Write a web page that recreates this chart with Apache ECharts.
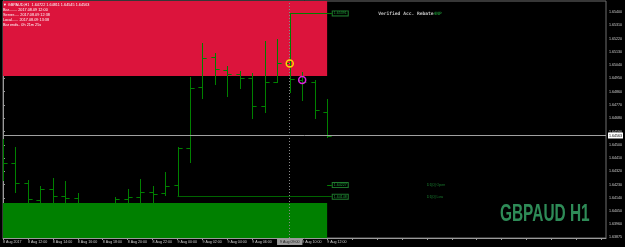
<!DOCTYPE html>
<html>
<head>
<meta charset="utf-8">
<script src="https://cdn.jsdelivr.net/npm/echarts@6/dist/echarts.min.js"></script>
<style>
  html, body { margin: 0; padding: 0; background: #000; }
  #main { width: 625px; height: 247px; }
</style>
</head>
<body>
<div id="main"></div>
<script>
// GBPAUD H1, bars from 8 Aug 10:00 to 9 Aug 12:00
var opens  = [1.64397,1.64375,1.64239,1.64126,1.64198,1.64153,1.64137,1.64085,1.64020,1.64080,1.64135,1.64144,1.64180,1.64171,1.64227,1.64476,1.64890,1.65093,1.65007,1.64980,1.64951,1.64761,1.64928,1.65052,1.64939,1.64924,1.64722];
var highs  = [1.64539,1.64487,1.64261,1.64221,1.64277,1.64255,1.64171,1.64092,1.64090,1.64148,1.64200,1.64268,1.64221,1.64316,1.64483,1.64957,1.65188,1.65120,1.65034,1.65000,1.64985,1.65206,1.65215,1.65391,1.64995,1.64939,1.64811];
var lows   = [1.64255,1.64175,1.64058,1.64045,1.64031,1.64024,1.64004,1.63960,1.63990,1.64045,1.64045,1.64058,1.64072,1.64150,1.64148,1.64375,1.64808,1.64905,1.64826,1.64878,1.64675,1.64718,1.64921,1.64849,1.64797,1.64675,1.64545];
var closes = [1.64375,1.64239,1.64131,1.64198,1.64153,1.64137,1.64092,1.64020,1.64070,1.64131,1.64144,1.64180,1.64167,1.64219,1.64476,1.64883,1.65086,1.65012,1.64980,1.64955,1.64761,1.64924,1.65052,1.64944,1.64924,1.64734,1.64563];

var timeLabels = ['8 Aug 2017','8 Aug 12:00','8 Aug 14:00','8 Aug 16:00','8 Aug 18:00','8 Aug 20:00','8 Aug 22:00',
                  '9 Aug 00:00','9 Aug 02:00','9 Aug 04:00','9 Aug 06:00','9 Aug 08:00','9 Aug 10:00','9 Aug 12:00'];
var priceTicks = [1.65400,1.65310,1.65220,1.65130,1.65040,1.64950,1.64860,1.64770,1.64680,1.64590,
                  1.64500,1.64410,1.64320,1.64230,1.64140,1.64050,1.63960,1.63875];

var priceMin = 1.63868, priceMax = 1.65475;
var barMax = 48.37;
var bid = 1.64563;
var supplyZone = 1.64966;   // red box bottom
var demandZone = 1.64105;   // green box top
var zoneEnd = 26;
var dayOpen = 1.64227, dayLow = 1.64148, dayLowBar = 14;
var topLevel = 1.65391, topLevelBar = 23;
var levelEnd = 26.37;
var cursorBar = 23, cursorTime = '9 Aug 09:00';
var yellowMark = [[23, 1.65052]];
var magentaMark = [[24, 1.64939]];
var notes = [
  { value: [34, dayOpen], text: 'D1[0] Open' },
  { value: [34, dayLow], text: 'D1[0] Low' }
];

var header = [
  '\u25BC GBPAUD,H1  1.64722 1.64811 1.64545 1.64563',
  'Bar........ 2017.08.09 12:00',
  'Server..... 2017.08.09 12:38',
  'Local...... 2017.08.09 13:38',
  'Bar ends.. 0h 21m 25s'
];

var ohlc = opens.map(function (o, i) { return [i, o, closes[i], highs[i], lows[i]]; });

var FONT = 'Liberation Sans';
var myChart = echarts.init(document.getElementById('main'));

function crisp(v) { return Math.round(v) + 0.5; }

var boxLabel = function (txt) {
  return { show: true, position: 'end', distance: 1, formatter: txt,
           color: '#1fa03a', backgroundColor: '#000', borderColor: '#1f7a2e', borderWidth: 1,
           padding: [0, 1], fontSize: 3.6, fontFamily: FONT };
};

myChart.setOption({
  backgroundColor: '#000',
  animation: false,
  grid: {
    left: 1, right: 17, top: 1, bottom: 9,
    show: true, borderColor: '#6e6e6e', borderWidth: 1, backgroundColor: '#000'
  },
  xAxis: {
    type: 'value', min: 0, max: barMax, interval: 2,
    axisLine: { show: true, lineStyle: { color: '#9a9a9a', width: 1 } },
    axisTick: { show: true, length: 2, lineStyle: { color: '#9a9a9a' } },
    splitLine: { show: false },
    axisLabel: {
      color: '#d0d0d0', fontSize: 3.6, fontFamily: FONT, margin: 2, align: 'left',
      showMaxLabel: false,
      formatter: function (v) { return timeLabels[Math.round(v / 2)] || ''; }
    }
  },
  yAxis: {
    type: 'value', position: 'right', min: priceMin, max: priceMax, scale: true,
    axisLine: { show: true, lineStyle: { color: '#9a9a9a', width: 1 } },
    axisTick: { show: true, length: 2, customValues: priceTicks, lineStyle: { color: '#9a9a9a' } },
    splitLine: { show: false },
    axisLabel: {
      color: '#d0d0d0', fontSize: 3.6, fontFamily: FONT, margin: 3,
      customValues: priceTicks,
      formatter: function (v) { return v.toFixed(5); }
    }
  },
  graphic: [
    {
      type: 'text', left: 3, top: 2, z: 100,
      style: { text: header.join('\n'), fill: '#ffffff', font: '3.8px ' + FONT, lineHeight: 5 }
    },
    {
      type: 'text', x: 500, y: 203, scaleX: 0.67, scaleY: 1, z: 100,
      style: { text: 'GBPAUD H1', fill: '#2e8b57', font: 'bold 23px "Liberation Sans"' }
    }
  ],
  series: [
    {
      // supply / demand zones
      type: 'line', data: [], z: 1, silent: true,
      markArea: {
        silent: true,
        data: [
          [{ coord: [0, priceMax], itemStyle: { color: '#dc143c', opacity: 1 } }, { coord: [zoneEnd, supplyZone] }],
          [{ coord: [0, demandZone], itemStyle: { color: '#008000', opacity: 1 } }, { coord: [zoneEnd, priceMin] }]
        ]
      }
    },
    {
      // price levels
      type: 'line', data: [], z: 4, silent: true,
      markLine: {
        silent: true, symbol: 'none', animation: false,
        data: [
          [{ coord: [0, bid], lineStyle: { color: '#a0a0a0', width: 1, type: 'solid' },
             label: { show: true, position: 'end', distance: 2, formatter: bid.toFixed(5),
                      color: '#000', backgroundColor: '#fff', padding: [1, 1],
                      fontSize: 3.6, fontFamily: FONT } },
           { coord: [barMax, bid] }],
          [{ coord: [topLevelBar, topLevel], lineStyle: { color: '#008000', width: 1, type: 'solid' },
             label: boxLabel(topLevel.toFixed(5)) },
           { coord: [levelEnd, topLevel] }],
          [{ coord: [zoneEnd, dayOpen], lineStyle: { color: '#008000', width: 1, type: 'solid' },
             label: boxLabel(dayOpen.toFixed(5)) },
           { coord: [levelEnd, dayOpen] }],
          [{ coord: [dayLowBar, dayLow], lineStyle: { color: '#006400', width: 1, type: 'solid' },
             label: boxLabel(dayLow.toFixed(5)) },
           { coord: [levelEnd, dayLow] }],
          { xAxis: cursorBar, lineStyle: { color: '#8a8a8a', width: 1, type: [1, 2] },
            label: { show: true, position: 'start', distance: 1, formatter: cursorTime,
                     color: '#202020', backgroundColor: '#9a9a9a', padding: [1, 3],
                     fontSize: 3.6, fontFamily: FONT } }
        ]
      }
    },
    {
      type: 'custom', z: 3, clip: true, silent: true,
      data: ohlc,
      renderItem: function (params, api) {
        var x = api.value(0);
        var o = api.coord([x, api.value(1)]);
        var c = api.coord([x, api.value(2)]);
        var h = api.coord([x, api.value(3)]);
        var l = api.coord([x, api.value(4)]);
        var w = api.size([1, 0])[0] * 0.33;
        var cx = crisp(h[0]);
        var st = { stroke: '#008000', lineWidth: 1 };
        return {
          type: 'group',
          children: [
            { type: 'line', shape: { x1: cx, y1: Math.round(h[1]), x2: cx, y2: Math.round(l[1]) }, style: st },
            { type: 'line', shape: { x1: cx - w, y1: crisp(o[1]), x2: cx, y2: crisp(o[1]) }, style: st },
            { type: 'line', shape: { x1: cx, y1: crisp(c[1]), x2: cx + w, y2: crisp(c[1]) }, style: st }
          ]
        };
      }
    },
    {
      type: 'scatter', z: 5, silent: true, data: yellowMark,
      symbol: 'circle', symbolSize: 7,
      itemStyle: { color: 'rgba(0,0,0,0)', borderColor: '#ffd700', borderWidth: 1.5, opacity: 1 }
    },
    {
      type: 'scatter', z: 5, silent: true, data: magentaMark,
      symbol: 'circle', symbolSize: 7,
      itemStyle: { color: 'rgba(0,0,0,0)', borderColor: '#e020e0', borderWidth: 1.5, opacity: 1 }
    },
    {
      // text notes anchored to price levels
      type: 'scatter', z: 6, silent: true, symbolSize: 0,
      data: notes.map(function (n) { return { value: n.value, name: n.text }; }),
      label: { show: true, position: 'right', distance: 0, formatter: '{b}',
               color: '#1f9a3a', fontSize: 3.6, fontFamily: FONT }
    },
    {
      type: 'scatter', z: 6, silent: true, symbolSize: 0,
      data: [{ value: [30.1, topLevel], name: 'note' }],
      label: { show: true, position: 'right', distance: 0,
               formatter: '{w|Verified Acc. Rebate}{g|4NP}',
               rich: { w: { color: '#f0f0f0', fontSize: 4.6, fontWeight: 'bold', fontFamily: 'DejaVu Sans Mono' },
                       g: { color: '#1fa03a', fontSize: 4.6, fontWeight: 'bold', fontFamily: 'DejaVu Sans Mono' } } }
    }
  ]
});
</script>
</body>
</html>
